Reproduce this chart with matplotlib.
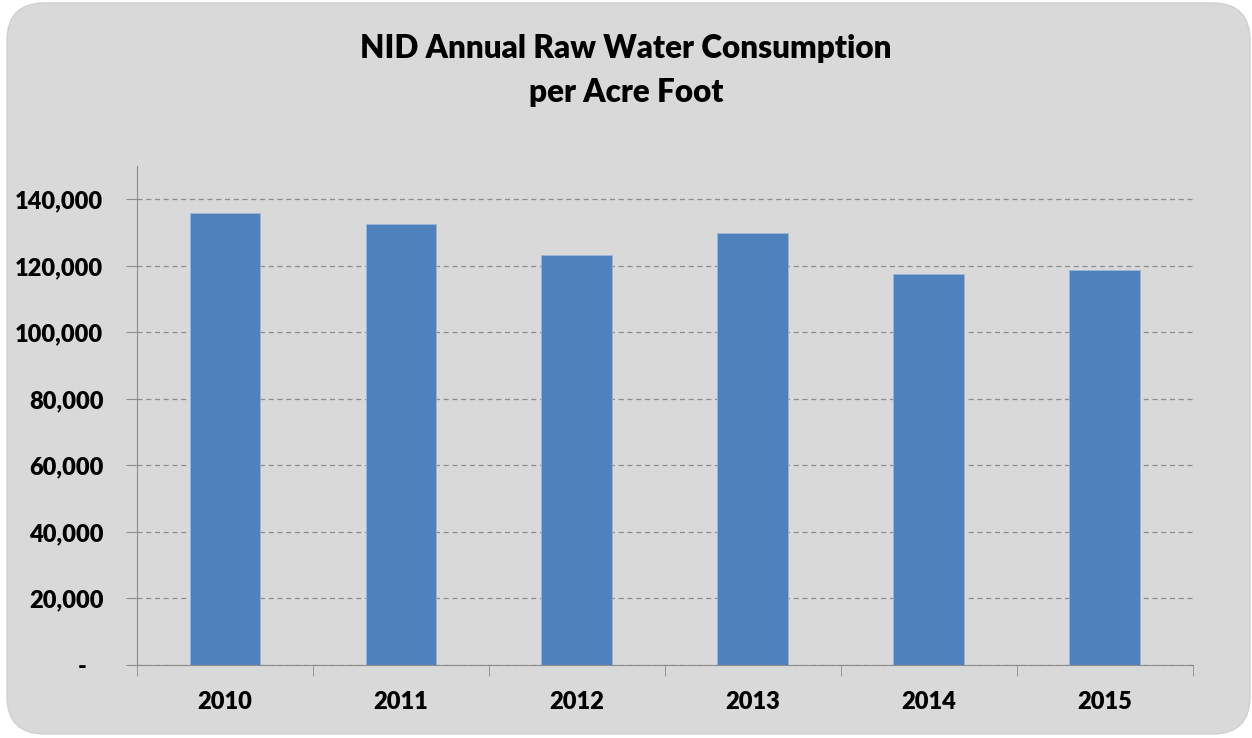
import matplotlib.pyplot as plt
from matplotlib.patches import FancyBboxPatch
from matplotlib.ticker import FuncFormatter, FixedLocator

plt.rc('font', family='Lato', weight='bold')

years = ['2010', '2011', '2012', '2013', '2014', '2015']
consumption = [135850, 132540, 123220, 129830, 117590, 118710]

fig = plt.figure(figsize=(12.52, 7.38), dpi=100)
fig.patch.set_facecolor('white')

# rounded grey panel behind everything
bg = FancyBboxPatch((7 / 1252, 4 / 738), 1243 / 1252, 731 / 738,
                    boxstyle='round,pad=0,rounding_size=0.03',
                    transform=fig.transFigure, facecolor='#d9d9d9',
                    edgecolor='#d0d0d0', linewidth=1, zorder=-5,
                    mutation_aspect=1252 / 738)
fig.patches.append(bg)

ax = fig.add_axes([0.1092, 0.0989, 0.8434, 0.6761])
ax.set_facecolor('none')

x = list(range(len(years)))
ax.bar(x, consumption, width=0.4, color='#4f81bd', edgecolor='#9db6d8',
       linewidth=0.6, zorder=3)

ax.set_xlim(-0.5, len(years) - 0.5)
ax.set_ylim(0, 150000)
ax.set_yticks(range(0, 140001, 20000))
# excel accounting style: zero shows as a dash, set in a little
ax.yaxis.set_major_formatter(FuncFormatter(lambda v, p: '-   ' if v == 0 else f'{v:,.0f}'))
ax.grid(axis='y', linestyle=(0, (4, 3)), color='#8c8c8c', linewidth=0.9, zorder=1)

ax.set_xticks(x)
ax.set_xticklabels(years)
ax.xaxis.set_minor_locator(FixedLocator([i - 0.5 for i in range(len(years) + 1)]))
ax.tick_params(axis='x', which='major', length=0, pad=19, labelsize=17)
ax.tick_params(axis='x', which='minor', length=8, color='#8c8c8c', direction='out')
ax.tick_params(axis='y', length=8, color='#8c8c8c', labelsize=17, pad=16)
for lbl in ax.get_xticklabels() + ax.get_yticklabels():
    lbl.set_fontweight('heavy')

for side in ['top', 'right']:
    ax.spines[side].set_visible(False)
ax.spines['left'].set_color('#8c8c8c')
ax.spines['bottom'].set_color('#8c8c8c')

fig.text(0.5, 1 - 58 / 738, 'NID Annual Raw Water Consumption',
         ha='center', va='baseline', fontsize=22.7, fontweight='heavy')
fig.text(0.5, 1 - 102 / 738, 'per Acre Foot',
         ha='center', va='baseline', fontsize=22.7, fontweight='heavy')

plt.savefig('out.png', dpi=100)
